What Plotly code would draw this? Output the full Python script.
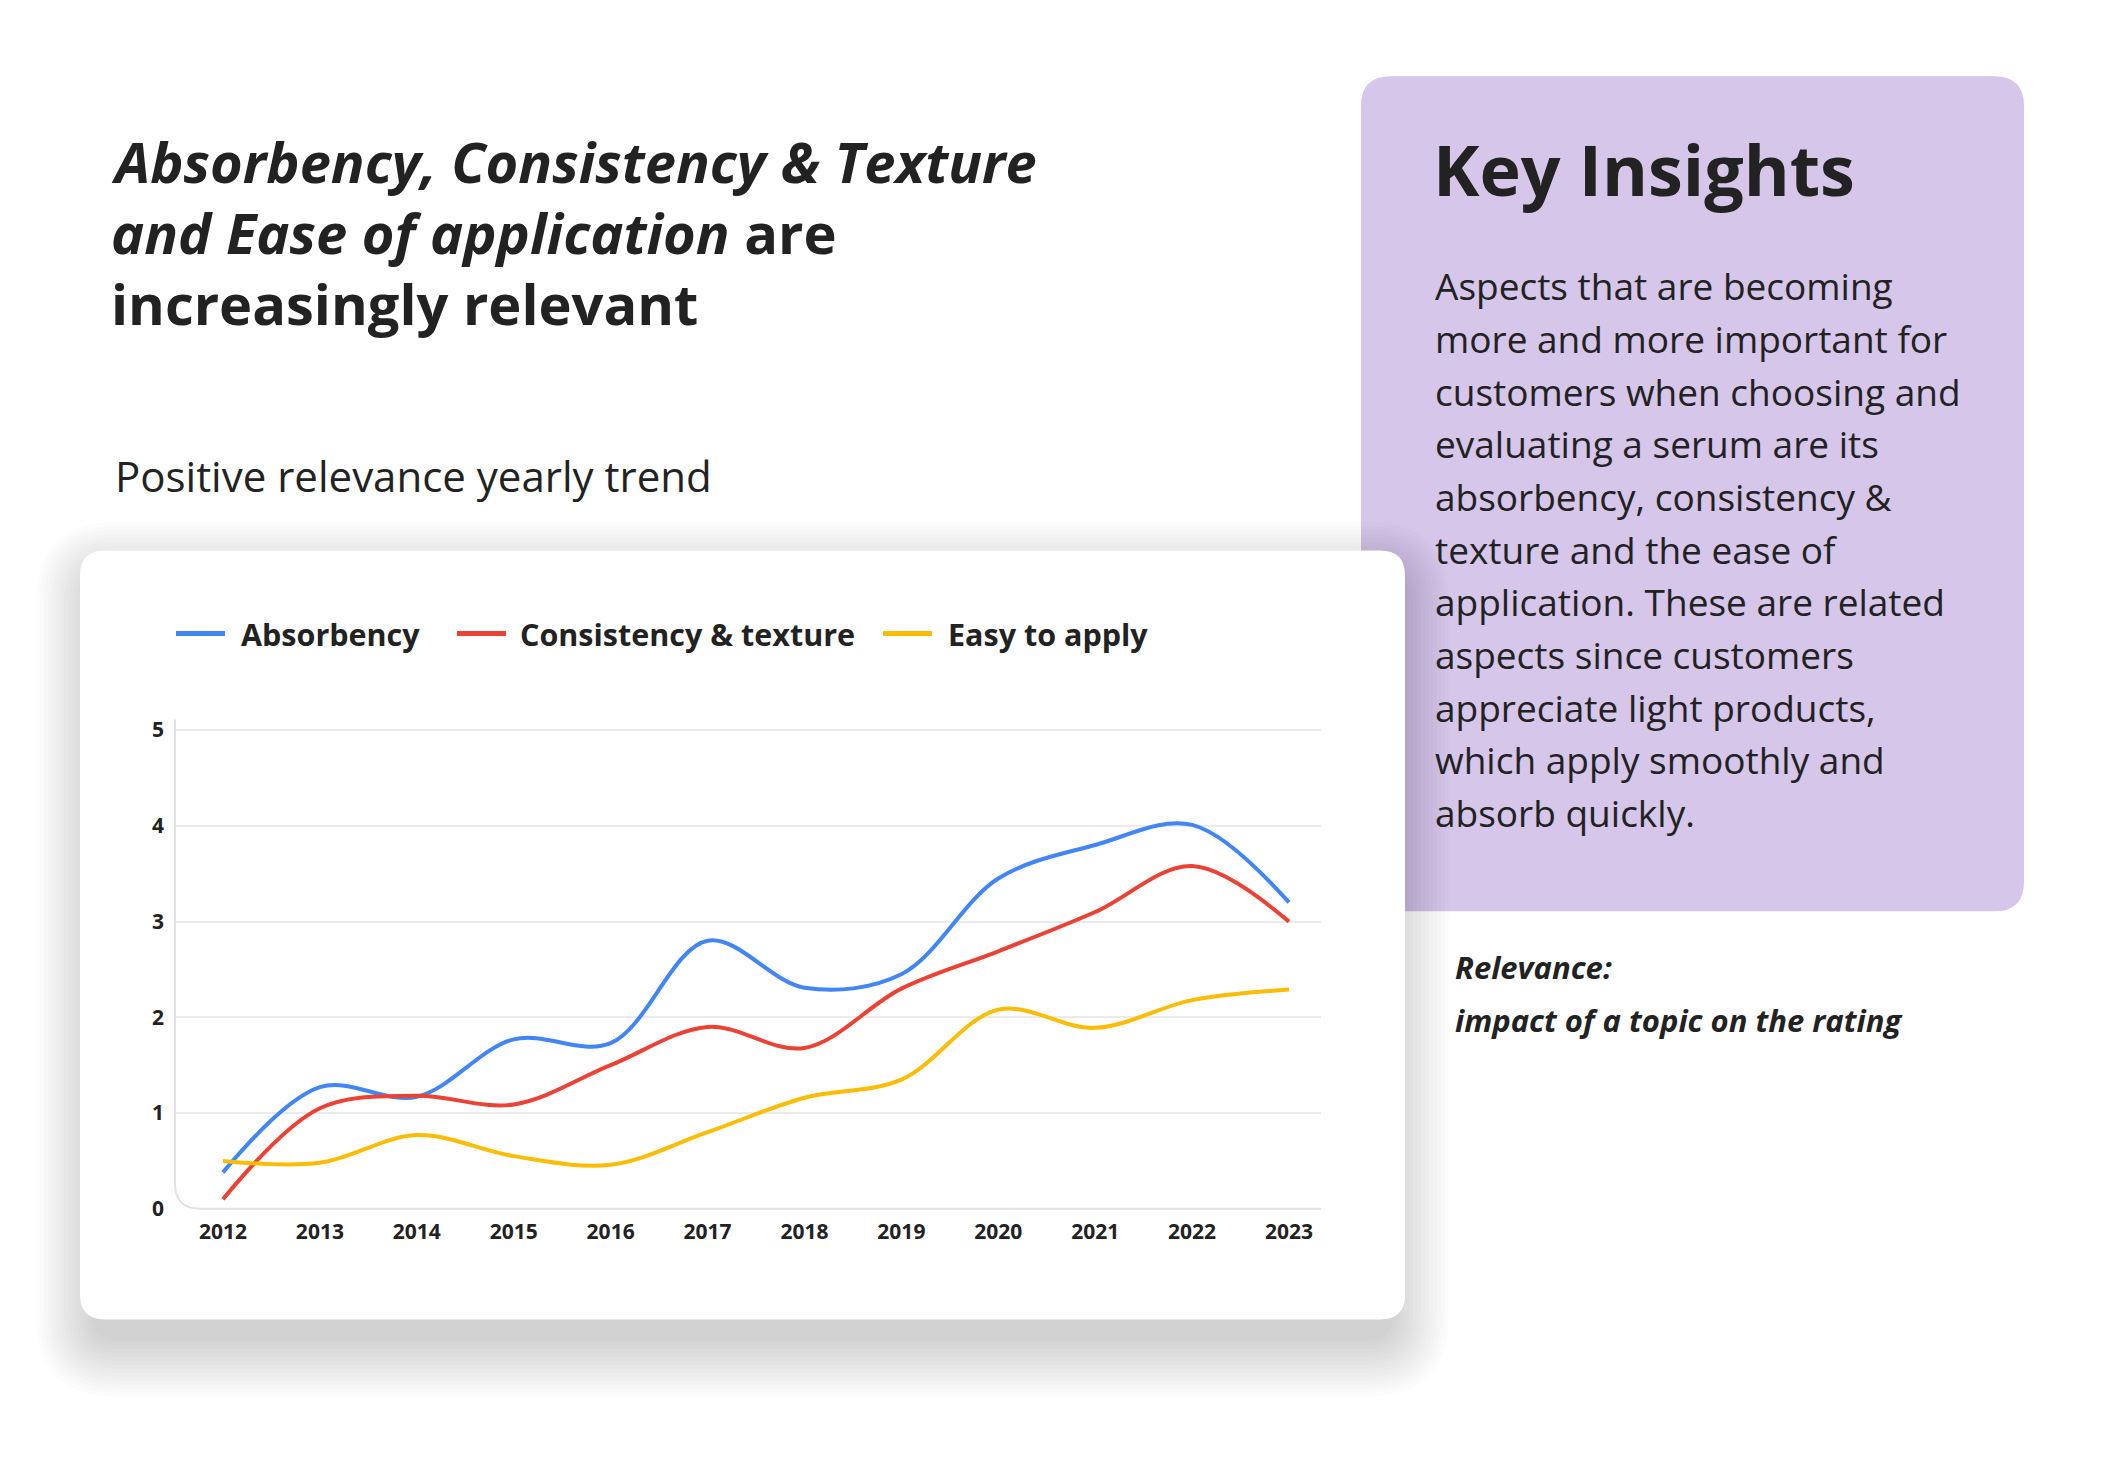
import plotly.graph_objects as go

W, H = 2103, 1465
OFF = 8  # the page body keeps its default 8px margin

years = [2012, 2013, 2014, 2015, 2016, 2017, 2018, 2019, 2020, 2021, 2022, 2023]
absorbency = [0.38, 1.27, 1.17, 1.77, 1.73, 2.80, 2.31, 2.45, 3.45, 3.80, 4.01, 3.20]
consistency = [0.10, 1.05, 1.18, 1.09, 1.50, 1.90, 1.68, 2.30, 2.69, 3.10, 3.58, 3.00]
easy_apply = [0.50, 0.48, 0.77, 0.55, 0.46, 0.80, 1.16, 1.35, 2.08, 1.89, 2.18, 2.29]

series = [
    ("Absorbency", absorbency, "#4285F4"),
    ("Consistency & texture", consistency, "#EA4335"),
    ("Easy to apply", easy_apply, "#FBBC04"),
]
y_ticks = [0, 1, 2, 3, 4, 5]

title_lines = [
    "<i>Absorbency, Consistency & Texture</i>",
    "<i>and Ease of application</i> are",
    "increasingly relevant",
]
subtitle = "Positive relevance yearly trend"
insight_title = "Key Insights"
insight_lines = [
    "Aspects that are becoming",
    "more and more important for",
    "customers when choosing and",
    "evaluating a serum are its",
    "absorbency, consistency &",
    "texture and the ease of",
    "application. These are related",
    "aspects since customers",
    "appreciate light products,",
    "which apply smoothly and",
    "absorb quickly.",
]
note_lines = ["Relevance:", "impact of a topic on the rating"]

TEXT = "#222222"
FONT = "Open Sans"
FW, FH = W - 2 * OFF, H - 2 * OFF

# plot box in page pixels
AX_L, AX_R, AX_B, AX_T = 175, 1321, 1219, 724


def px(x):
    return (x - OFF) / FW


def py(y):
    return 1 - (y - OFF) / FH


def rounded(x0, y0, x1, y1, r):
    # rounded rectangle path in paper coords, built from pixel corners
    pts = [
        ("M", x0 + r, y0), ("L", x1 - r, y0), ("Q", x1, y0, x1, y0 + r),
        ("L", x1, y1 - r), ("Q", x1, y1, x1 - r, y1), ("L", x0 + r, y1),
        ("Q", x0, y1, x0, y1 - r), ("L", x0, y0 + r), ("Q", x0, y0, x0 + r, y0),
    ]
    out = []
    for p in pts:
        cmd, vals = p[0], p[1:]
        coords = []
        for i in range(0, len(vals), 2):
            coords.append(f"{px(vals[i]):.5f},{py(vals[i + 1]):.5f}")
        out.append(cmd + " " + " ".join(coords))
    return " ".join(out) + " Z"


def label(text, x, baseline, size, **font):
    # yanchor middle puts the baseline about 0.35em under the anchor
    return dict(text=text, x=px(x), y=py(baseline - 0.35 * size), xref="paper", yref="paper",
                xanchor="left", yanchor="middle", showarrow=False,
                font=dict(family=FONT, size=size, color=TEXT, **font))


fig = go.Figure()

for name, vals, color in series:
    fig.add_trace(
        go.Scatter(
            x=years,
            y=vals,
            name=name,
            mode="lines",
            line=dict(color=color, width=4, shape="spline", smoothing=1.0),
            showlegend=False,
            hoverinfo="x+y+name",
        )
    )

shapes = []
# purple insight panel
shapes.append(dict(type="path", path=rounded(1361, 73, 2024, 918, 30),
                   xref="paper", yref="paper", fillcolor="#d5c6ea",
                   line=dict(width=0), layer="below"))
# soft card shadow
for i in range(15):
    e = 4 * i
    shapes.append(dict(type="path",
                       path=rounded(92 - e, 580 - e, 1393 + e, 1353 + e, 25 + e),
                       xref="paper", yref="paper", fillcolor="rgba(0,0,0,0.011)",
                       line=dict(width=0), layer="below"))
# white card
shapes.append(dict(type="path", path=rounded(80, 553, 1405, 1331, 25),
                   xref="paper", yref="paper", fillcolor="white",
                   line=dict(width=0), layer="below"))
# axis line with a rounded corner
axis_path = (f"M {px(AX_L):.5f},{py(AX_T):.5f} L {px(AX_L):.5f},{py(AX_B - 25):.5f} "
             f"Q {px(AX_L):.5f},{py(AX_B):.5f} {px(AX_L + 25):.5f},{py(AX_B):.5f} "
             f"L {px(AX_R):.5f},{py(AX_B):.5f}")
shapes.append(dict(type="path", path=axis_path, xref="paper", yref="paper",
                   line=dict(color="#e3e3e3", width=2), layer="above"))

# legend drawn by hand to match the long swatches and spacing
legend_pos = [(176, 239), (457, 518), (883, 946)]
annotations = []
for (name, _, color), (lx, tx) in zip(series, legend_pos):
    shapes.append(dict(type="line", xref="paper", yref="paper",
                       x0=px(lx), x1=px(lx + 49), y0=py(637), y1=py(637),
                       line=dict(color=color, width=5)))
    annotations.append(label(name, tx, 648, 30.5, weight=700))

for i, line in enumerate(title_lines):
    annotations.append(label(line, 109, 178 + i * 72, 56, weight=700))

annotations.append(label(subtitle, 113, 492, 42))
annotations.append(label(insight_title, 1431, 191, 70, weight=700))

for i, line in enumerate(insight_lines):
    annotations.append(label(line, 1433, 298 + i * 53.3, 37))

for i, line in enumerate(note_lines):
    annotations.append(label(line, 1453, 985 + i * 54, 31, weight=700, style="italic"))

fig.update_layout(
    width=FW,
    height=FH,
    margin=dict(l=0, r=0, t=0, b=0),
    paper_bgcolor="white",
    plot_bgcolor="rgba(0,0,0,0)",
    shapes=shapes,
    annotations=annotations,
    showlegend=False,
    xaxis=dict(
        domain=[px(AX_L), px(AX_R)],
        range=[2011.505, 2023.33],
        tickvals=years,
        showgrid=False,
        zeroline=False,
        showline=False,
        ticks="",
        ticklabelstandoff=8,
        tickfont=dict(family=FONT, size=21, color=TEXT, weight=700),
    ),
    yaxis=dict(
        domain=[py(AX_B), py(AX_T)],
        range=[0, 5.11],
        tickvals=y_ticks,
        showgrid=True,
        gridcolor="#ebebeb",
        gridwidth=2,
        zeroline=True,
        zerolinecolor="white",
        zerolinewidth=4,
        showline=False,
        ticks="",
        ticklabelstandoff=10,
        tickfont=dict(family=FONT, size=21, color=TEXT, weight=700),
    ),
)

fig.write_html("out.html")
